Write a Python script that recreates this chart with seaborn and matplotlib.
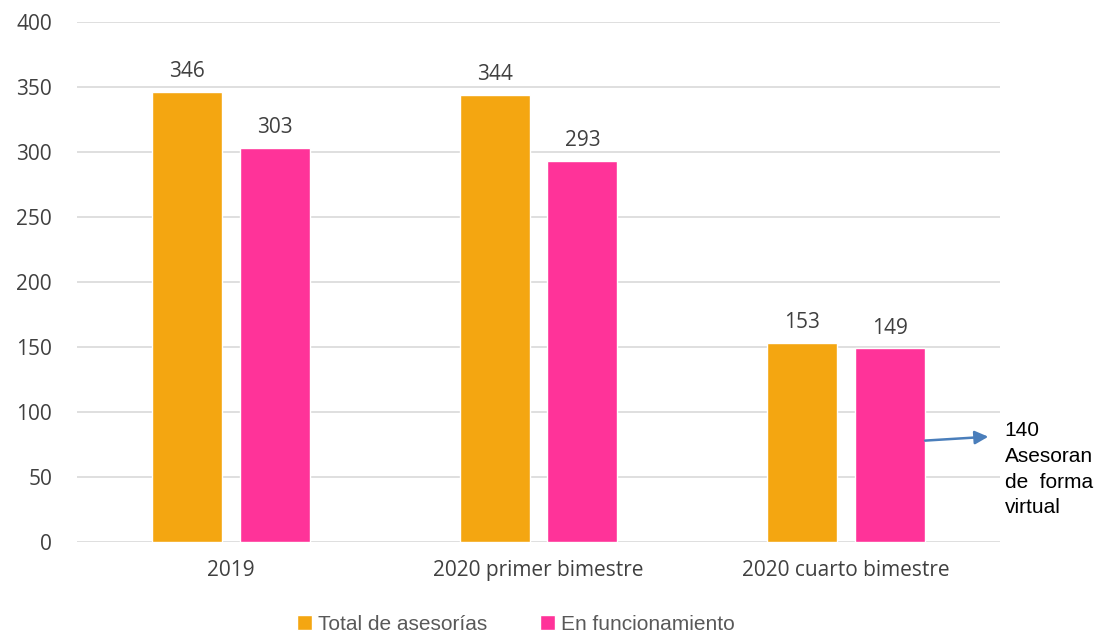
import matplotlib
matplotlib.use("Agg")
import matplotlib.pyplot as plt
import seaborn as sns
import pandas as pd

categories = ["2019", "2020 primer bimestre", "2020 cuarto bimestre"]
series_names = ["Total de asesorías", "En funcionamiento"]
total_asesorias = [346, 344, 153]
en_funcionamiento = [303, 293, 149]
colors = ["#F4A611", "#FF3399"]
note_text = "140\nAsesoran\nde  forma\nvirtual"

df = pd.DataFrame({
    "categoria": categories * 2,
    "serie": [series_names[0]] * 3 + [series_names[1]] * 3,
    "valor": total_asesorias + en_funcionamiento,
})

sns.set_theme(style="white")
plt.rcParams["font.family"] = ["Open Sans", "DejaVu Sans"]

fig = plt.figure(figsize=(10.97, 6.36), dpi=100)
ax = fig.add_axes([0.0702, 0.1478, 0.9116 - 0.0702, 0.9654 - 0.1478])

sns.barplot(data=df, x="categoria", y="valor", hue="serie", order=categories,
            hue_order=series_names, palette=colors, width=0.57, gap=0.2,
            saturation=1, ax=ax, legend=True)

for cont in ax.containers:
    ax.bar_label(cont, labels=[f"{v:.0f}" for v in cont.datavalues], padding=7,
                 fontsize=15, color="#404040")

ax.set_ylim(0, 400)
ax.set_xlim(-0.5, 2.5)
ax.set_yticks(range(0, 401, 50))
ax.yaxis.grid(True, color="#D9D9D9", linewidth=1.2)
ax.set_axisbelow(True)
for s in ax.spines.values():
    s.set_visible(False)
ax.set_xlabel("")
ax.set_ylabel("")
ax.tick_params(axis="y", labelsize=15, labelcolor="#404040", length=0, pad=18)
ax.tick_params(axis="x", labelsize=15, labelcolor="#404040", length=0, pad=13)

# annotation on the last pink bar
pink_bar = ax.containers[1][2]
x_edge = pink_bar.get_x() + pink_bar.get_width()
ax.annotate("", xy=(2.462, 81), xytext=(x_edge, 78),
            arrowprops=dict(arrowstyle="-|>", color="#4A7EBB", lw=1.8,
                            mutation_scale=20, shrinkA=0, shrinkB=0),
            annotation_clip=False)
ax.text(2.515, 93, note_text, ha="left", va="top", fontsize=15,
        family=["Liberation Sans", "DejaVu Sans"], color="black",
        linespacing=1.45, clip_on=False)

leg = ax.legend(loc="center", bbox_to_anchor=(0.4756, -0.158), ncol=2,
                frameon=False, fontsize=15, handlelength=0.72, handleheight=0.72,
                handletextpad=0.3, columnspacing=2.5, borderaxespad=0)
for t in leg.get_texts():
    t.set_color("#595959")
    t.set_family(["Liberation Sans", "DejaVu Sans"])

fig.savefig("out.png", dpi=100)
